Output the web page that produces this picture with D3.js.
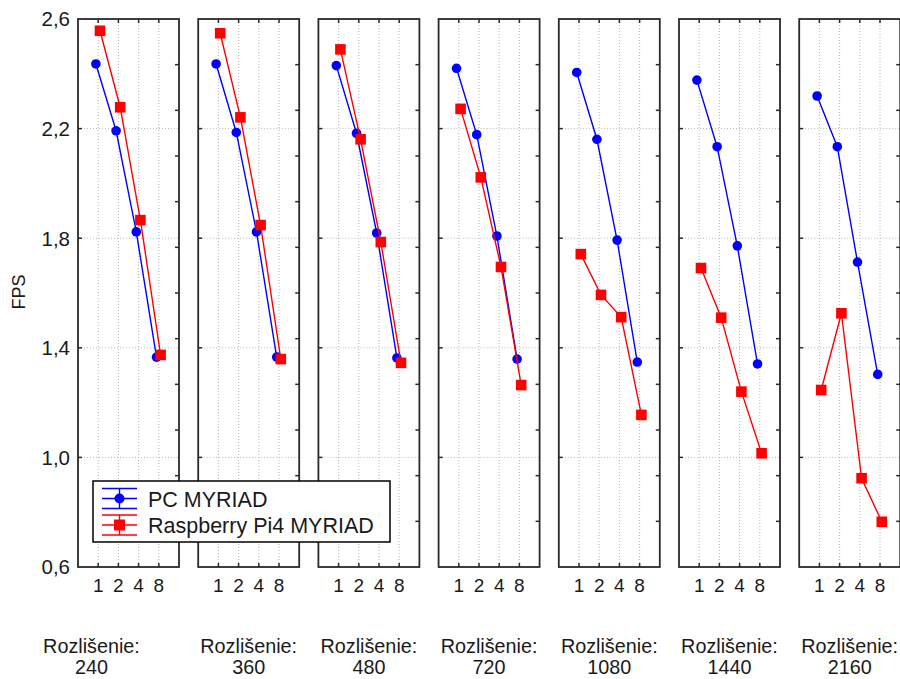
<!DOCTYPE html>
<html>
<head>
<meta charset="utf-8">
<script src="https://cdn.jsdelivr.net/npm/d3@7/dist/d3.min.js"></script>
<style>
  html, body { margin: 0; padding: 0; background: #fff; }
  svg { display: block; font-family: "Liberation Sans", Arial, sans-serif; }
</style>
</head>
<body>
<svg id="chart" width="900" height="679"></svg>
<script>
// Resolution groups (one panel each) and thread counts on the x axis
const resolutions = ["240", "360", "480", "720", "1080", "1440", "2160"];
const threads = [1, 2, 4, 8];
const yTicks = [0.6, 1.0, 1.4, 1.8, 2.2, 2.6];

// FPS per panel, in thread order 1, 2, 4, 8
const pcMyriad = [
  [2.436, 2.192, 1.823, 1.366],
  [2.436, 2.186, 1.823, 1.366],
  [2.430, 2.183, 1.819, 1.363],
  [2.420, 2.178, 1.808, 1.359],
  [2.405, 2.161, 1.793, 1.348],
  [2.377, 2.134, 1.772, 1.341],
  [2.319, 2.134, 1.713, 1.303]
];
const piMyriad = [
  [2.557, 2.278, 1.866, 1.374],
  [2.548, 2.241, 1.848, 1.359],
  [2.489, 2.161, 1.786, 1.345],
  [2.272, 2.022, 1.695, 1.264],
  [1.742, 1.593, 1.512, 1.155],
  [1.691, 1.510, 1.240, 1.015],
  [1.246, 1.526, 0.924, 0.765]
];

const seriesNames = ["PC MYRIAD", "Raspberry Pi4 MYRIAD"];
const seriesColors = ["#0000ff", "#ff0000"];

const svg = d3.select("#chart");
const plotTop = 19, plotBottom = 567;
const panelLeft0 = 78, panelStep = 120.2, panelW = 101;

const y = d3.scaleLinear().domain([0.6, 2.6]).range([plotBottom, plotTop]);
const fmt = v => v.toFixed(1).replace(".", ",");
const frameColor = "#2a2a2a";
const textColor = "#1a1a1a";

// y-axis labels on the first panel
const yAxis = svg.append("g");
yAxis.selectAll("text").data(yTicks).join("text")
  .attr("x", 70).attr("y", d => y(d))
  .attr("dy", "0.36em")
  .attr("text-anchor", "end")
  .attr("font-size", 20.5)
  .attr("fill", textColor)
  .text(fmt);

svg.append("text")
  .attr("transform", "translate(25,292) rotate(-90)")
  .attr("text-anchor", "middle")
  .attr("font-size", 18)
  .attr("fill", textColor)
  .text("FPS");

// minor right-side ticks split the range into 12 parts
const rightTicks = d3.range(1, 12).map(k => plotTop + (plotBottom - plotTop) * k / 12);

resolutions.forEach((res, i) => {
  const left = panelLeft0 + panelStep * i;
  const right = left + panelW;
  const x = d3.scalePoint().domain(threads).range([left, right]).padding(1);
  const g = svg.append("g");

  // dotted grid
  g.selectAll(".vgrid").data(threads).join("line")
    .attr("x1", d => x(d)).attr("x2", d => x(d))
    .attr("y1", plotTop).attr("y2", plotBottom)
    .attr("stroke", "#b8b8b8").attr("stroke-width", 1)
    .attr("stroke-dasharray", "1,2");
  g.selectAll(".hgrid").data(yTicks.slice(1, -1)).join("line")
    .attr("x1", left).attr("x2", right)
    .attr("y1", d => y(d)).attr("y2", d => y(d))
    .attr("stroke", "#b8b8b8").attr("stroke-width", 1)
    .attr("stroke-dasharray", "1,2");

  // inward ticks
  const tk = g.append("g").attr("stroke", frameColor).attr("stroke-width", 1.5);
  threads.forEach(t => {
    tk.append("line").attr("x1", x(t)).attr("x2", x(t)).attr("y1", plotTop).attr("y2", plotTop + 4);
    tk.append("line").attr("x1", x(t)).attr("x2", x(t)).attr("y1", plotBottom).attr("y2", plotBottom - 4);
  });
  yTicks.slice(1, -1).forEach(v => {
    tk.append("line").attr("x1", left).attr("x2", left + 4).attr("y1", y(v)).attr("y2", y(v));
  });
  rightTicks.forEach(py => {
    tk.append("line").attr("x1", right).attr("x2", right - 4).attr("y1", py).attr("y2", py);
  });

  // series
  const data = [pcMyriad[i], piMyriad[i]];
  const offsets = [-2.3, 1.8];
  data.forEach((vals, s) => {
    const pts = threads.map((t, j) => [x(t) + offsets[s], y(vals[j])]);
    g.append("path")
      .attr("d", d3.line()(pts))
      .attr("fill", "none")
      .attr("stroke", seriesColors[s])
      .attr("stroke-width", 1.4);
    if (s === 0) {
      g.selectAll(".pc").data(pts).join("circle")
        .attr("cx", d => d[0]).attr("cy", d => d[1]).attr("r", 4.8)
        .attr("fill", seriesColors[s]);
    } else {
      g.selectAll(".pi").data(pts).join("rect")
        .attr("x", d => d[0] - 5.3).attr("y", d => d[1] - 5.3)
        .attr("width", 10.6).attr("height", 10.6)
        .attr("fill", seriesColors[s]);
    }
  });

  // frame
  g.append("rect")
    .attr("x", left).attr("y", plotTop)
    .attr("width", panelW).attr("height", plotBottom - plotTop)
    .attr("fill", "none").attr("stroke", frameColor).attr("stroke-width", 1.8);

  // thread labels
  g.selectAll(".xl").data(threads).join("text")
    .attr("x", d => x(d)).attr("y", 592)
    .attr("text-anchor", "middle")
    .attr("font-size", 19)
    .attr("fill", textColor)
    .text(d => d);

  // resolution caption
  const cx = i === 0 ? left + 13.5 : left + panelW / 2;
  g.append("text")
    .attr("x", cx).attr("y", 653)
    .attr("text-anchor", "middle")
    .attr("font-size", 19.8)
    .attr("fill", textColor)
    .text("Rozlišenie:");
  g.append("text")
    .attr("x", cx).attr("y", 674)
    .attr("text-anchor", "middle")
    .attr("font-size", 19.8)
    .attr("fill", textColor)
    .text(res);
});

// legend
const lg = svg.append("g");
lg.append("rect")
  .attr("x", 93).attr("y", 481).attr("width", 297).attr("height", 61)
  .attr("fill", "#fff").attr("stroke", "#000").attr("stroke-width", 1.5);
const legendRows = [498.5, 525];
seriesNames.forEach((name, s) => {
  const cy = legendRows[s];
  const row = lg.append("g").attr("stroke", seriesColors[s]).attr("stroke-width", 1.4);
  row.append("line").attr("x1", 102).attr("x2", 137).attr("y1", cy - 10).attr("y2", cy - 10);
  row.append("line").attr("x1", 102).attr("x2", 137).attr("y1", cy).attr("y2", cy);
  row.append("line").attr("x1", 102).attr("x2", 137).attr("y1", cy + 10).attr("y2", cy + 10);
  row.append("line").attr("x1", 119.5).attr("x2", 119.5).attr("y1", cy - 10).attr("y2", cy + 10);
  if (s === 0) {
    lg.append("circle").attr("cx", 119.5).attr("cy", cy).attr("r", 5).attr("fill", seriesColors[s]);
  } else {
    lg.append("rect").attr("x", 114).attr("y", cy - 5.5).attr("width", 11).attr("height", 11)
      .attr("fill", seriesColors[s]);
  }
  lg.append("text")
    .attr("x", 148).attr("y", cy + 8)
    .attr("font-size", 21.5)
    .attr("fill", textColor)
    .text(name);
});
</script>
</body>
</html>
